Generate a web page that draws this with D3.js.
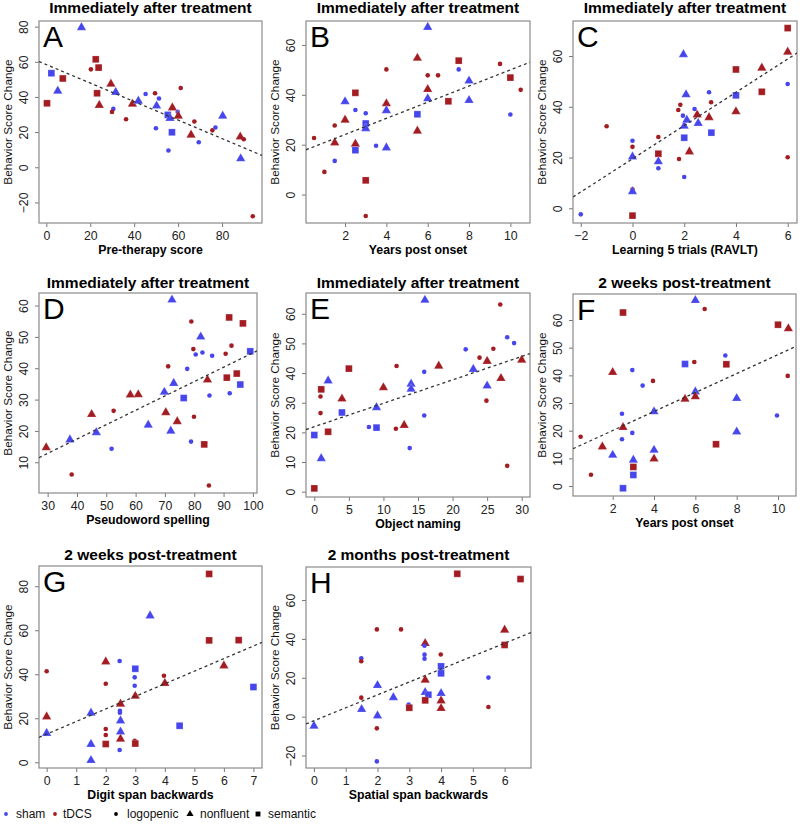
<!DOCTYPE html>
<html><head><meta charset="utf-8">
<script src="https://cdnjs.cloudflare.com/ajax/libs/d3/7.8.5/d3.min.js"></script>
<style>body{margin:0;background:#fff}svg{display:block}text{font-family:"Liberation Sans",Arial,Helvetica,sans-serif}</style>
</head><body><svg id="c" width="800" height="824"></svg>
<script>
// ---- data: [x, y, group (s=sham,t=tDCS), type (L=logopenic,N=nonfluent,S=semantic)]
const ptsA = [[16,79.5,'s','N'],[2.3,53.5,'s','S'],[7.5,50.5,'t','S'],[22.5,61.4,'t','S'],[23.8,56.7,'t','S'],[20.3,55.7,'t','L'],[5.2,43.4,'s','N'],[0.3,36.4,'t','S'],[23.1,42.1,'t','S'],[24.1,35.3,'t','N'],[29.4,47.4,'t','N'],[31.6,42.7,'s','N'],[30.5,33.2,'s','L'],[29.9,31.5,'t','L'],[36.3,27.3,'t','L'],[39.2,36,'t','N'],[41.9,37.7,'s','N'],[45.2,41.7,'s','L'],[49.5,42.1,'t','L'],[51.3,39.1,'s','L'],[50.2,34.9,'s','N'],[61.2,45.1,'t','L'],[49.9,22.2,'s','L'],[59.8,31.5,'s','L'],[55.3,29.8,'s','S'],[56.3,27.9,'s','N'],[57.4,33.9,'t','N'],[60.1,29.2,'t','N'],[55.6,9.5,'s','L'],[57.2,19.9,'s','S'],[65.9,18.4,'t','N'],[67.4,26,'t','L'],[69.4,14.2,'s','L'],[75.6,21,'t','L'],[77,22.6,'s','L'],[80.3,29.2,'s','N'],[88.3,17.3,'t','N'],[89.9,15.9,'t','L'],[88.5,4.9,'s','N'],[94,-27.9,'t','L']];
const ptsB = [[0.5,22.7,'t','L'],[1,9.1,'t','L'],[1.5,13.5,'s','L'],[1.5,27.7,'t','L'],[1.5,20.8,'t','N'],[2,37.3,'s','N'],[2,29.9,'t','N'],[2.5,40.8,'t','S'],[2.5,33.9,'s','L'],[2.5,20.3,'t','N'],[2.5,17.8,'s','S'],[3,32.6,'s','L'],[3,28.5,'s','S'],[3,26.5,'s','N'],[3,5.7,'t','S'],[3,-8.6,'t','L'],[3.5,19.6,'s','L'],[4,50.2,'t','L'],[4,36.5,'t','N'],[4,33.7,'s','N'],[4,18.8,'s','N'],[5.5,25.5,'t','N'],[5.5,32.2,'s','S'],[5.5,54.7,'t','N'],[6,67.1,'s','N'],[6,47.8,'t','L'],[6,42.2,'t','N'],[6,38.5,'s','N'],[6.5,47.8,'t','L'],[7,37.4,'t','S'],[7.5,53.7,'t','S'],[7.5,50.2,'s','L'],[8,45.6,'s','N'],[8,37.8,'s','N'],[9.5,52.4,'t','L'],[10,46.9,'t','S'],[10,32.1,'s','L'],[10.5,42,'t','L']];
const ptsC = [[-2,-2.4,'s','L'],[-1,32.3,'t','L'],[0,26.6,'s','L'],[0,24.2,'t','L'],[0,20.3,'s','N'],[0,7.5,'t','L'],[0,6.6,'s','N'],[0,-2.9,'t','S'],[1,28.1,'t','L'],[1,21.5,'t','S'],[1,18.4,'s','N'],[1,15.8,'s','L'],[1.8,19.4,'t','L'],[1.77,38.7,'t','L'],[1.85,40.8,'t','L'],[1.95,36.5,'s','L'],[1.97,60.6,'s','N'],[2.07,44.8,'s','N'],[2,32.4,'s','N'],[2.1,34.8,'s','N'],[2,27.8,'s','S'],[2,12.3,'s','L'],[2.2,22.3,'t','N'],[2.4,39.1,'s','L'],[2.5,36.8,'t','N'],[2.54,33.5,'s','N'],[2.96,35.8,'t','N'],[2.96,45.7,'s','L'],[3.04,41.8,'t','L'],[3.05,29.8,'s','S'],[4,54.7,'t','S'],[4,44.5,'s','S'],[4,38.1,'t','N'],[5,55.3,'t','N'],[5,45.9,'t','S'],[6,71,'t','S'],[6,61.6,'t','N'],[6,49,'s','L'],[6,20.1,'t','L']];
const ptsD = [[29.5,14.7,'t','N'],[38.2,6.1,'t','L'],[37.6,17.2,'s','N'],[45,25.3,'t','N'],[46.6,19.5,'s','N'],[51.8,14.3,'s','L'],[52.5,26.4,'t','L'],[58.2,31.5,'t','N'],[60.9,31.6,'t','N'],[64.3,21.9,'s','N'],[71.1,40.6,'t','L'],[69.8,32.4,'s','N'],[70.3,25.9,'t','N'],[73,35.2,'s','N'],[72.4,61.8,'s','N'],[72,20,'s','N'],[74.2,23,'t','N'],[77.6,39.8,'s','L'],[76.4,30.5,'s','S'],[79,54.9,'t','L'],[79.7,46.1,'t','L'],[80.5,44.4,'s','L'],[79.9,24.5,'t','L'],[78.9,16.6,'s','L'],[82.2,50,'s','N'],[82.8,45,'s','L'],[86.1,44,'s','L'],[84.5,36.3,'t','N'],[85.2,31.3,'s','L'],[83.4,15.7,'t','S'],[85,2.6,'t','L'],[91.9,56.2,'t','S'],[92.7,47.2,'t','L'],[90.7,44.6,'t','L'],[91.1,37,'t','S'],[92.1,32,'s','L'],[94.5,38.3,'t','S'],[96.6,54.3,'t','S'],[95.7,34.8,'s','S'],[99.1,45.4,'s','S']];
const ptsE = [[0,1.1,'t','S'],[0,19.1,'s','S'],[1,11.2,'s','N'],[0.9,32.1,'t','L'],[0.9,26.5,'t','L'],[1,34.5,'t','S'],[2,37.4,'s','N'],[2,20.2,'t','S'],[4,31.3,'t','N'],[4,26.7,'s','S'],[5,41.5,'t','S'],[7.9,21.8,'s','L'],[9,21.6,'s','S'],[9,28.4,'s','N'],[10,35.1,'t','N'],[11.9,42.4,'t','L'],[11.8,21.2,'t','L'],[13,22.4,'t','N'],[14,36.3,'s','N'],[14,34.6,'s','N'],[13.8,14.7,'s','L'],[15.9,40.4,'s','L'],[15.9,25.7,'s','L'],[16,64.6,'s','N'],[18,42.4,'t','N'],[21.9,48,'s','L'],[23,41.3,'s','N'],[23.9,45.2,'t','L'],[25.9,48.2,'t','L'],[25,44,'t','N'],[25,35.7,'s','N'],[24.9,30.7,'t','L'],[27,38.2,'t','N'],[26.9,63.1,'t','L'],[27.9,52.1,'s','L'],[27.9,8.7,'t','L'],[28.9,50.1,'s','L'],[30,44.4,'t','N']];
const ptsF = [[0.45,17.8,'t','L'],[0.95,4.1,'t','L'],[1.5,14.2,'t','N'],[2,11.2,'s','N'],[2,41.1,'t','N'],[2.5,62.7,'t','S'],[2.45,26.1,'s','L'],[2.5,21.2,'t','N'],[2.45,16.9,'s','L'],[2.5,-0.8,'s','S'],[2.95,41.9,'s','L'],[2.95,19.2,'s','L'],[3,9.4,'s','N'],[3,6.9,'t','S'],[3,4,'s','S'],[3.45,36.3,'s','L'],[3.95,38,'t','L'],[4,26.9,'s','N'],[4,13,'s','N'],[4,9.8,'t','N'],[5.5,44.1,'s','S'],[5.5,31.4,'t','N'],[5.95,44.8,'t','L'],[6,67.1,'s','N'],[6,34.1,'s','N'],[6,32.3,'t','N'],[6.45,64,'t','L'],[7.45,47.2,'s','L'],[7.5,44,'t','S'],[7,15.1,'t','S'],[8,31.7,'s','N'],[8,19.6,'s','N'],[9.95,25.5,'s','L'],[10,58.3,'t','S'],[10.5,56.9,'t','N'],[10.47,39.8,'t','L']];
const ptsG = [[0,41.4,'t','L'],[0,20.7,'t','N'],[0,13.2,'s','N'],[3.5,66.6,'s','N'],[1.5,22.4,'s','N'],[1.5,8.2,'s','N'],[1.5,0.9,'s','N'],[2,45.7,'t','N'],[2,35.7,'t','L'],[2,15.1,'t','L'],[2,12.4,'t','L'],[2,8.3,'t','S'],[2.47,46,'s','L'],[2.48,23.4,'s','L'],[2.48,22.5,'s','L'],[2.5,26.5,'t','N'],[2.5,18.9,'s','N'],[2.5,13.8,'s','N'],[2.5,10.6,'t','N'],[2.47,5.6,'s','L'],[3,42.5,'s','S'],[2.98,38.6,'s','L'],[2.98,34.8,'s','L'],[3,30.1,'t','N'],[2.98,9.8,'t','L'],[3,8.5,'t','S'],[3.97,39.3,'t','L'],[4,35.9,'t','N'],[4.5,16.6,'s','S'],[5.5,85.6,'t','S'],[5.5,55.4,'t','S'],[6.5,55.5,'t','S'],[6,43.9,'t','N'],[7,34.2,'s','S']];
const ptsH = [[0,-4.8,'s','N'],[1.49,30,'s','L'],[1.49,28.5,'t','L'],[1.49,9.8,'t','L'],[1.5,3.8,'s','N'],[1.98,44.9,'t','L'],[2,16.1,'s','N'],[2,0.5,'s','N'],[1.98,-6,'t','L'],[1.98,-23,'s','L'],[2.74,44.9,'t','L'],[2.5,9.9,'s','N'],[2.98,6.2,'s','L'],[3,4.6,'t','S'],[3.5,37.7,'t','N'],[3.48,36.5,'s','L'],[3.48,31.9,'s','L'],[3.48,29.8,'s','L'],[3.5,18.9,'t','N'],[3.5,12.5,'s','N'],[3.6,11.3,'s','S'],[3.5,8.4,'t','S'],[3.99,32,'t','L'],[4,25.9,'s','S'],[4,22.3,'s','S'],[4,12,'s','N'],[4,8.2,'t','N'],[4,4.3,'t','N'],[4.51,73.5,'t','S'],[5.49,20.1,'s','L'],[5.49,5,'t','L'],[6,44.6,'t','N'],[6,36.9,'t','S'],[6.5,70.8,'t','S']];

const panelPoints = [ptsA, ptsB, ptsC, ptsD, ptsE, ptsF, ptsG, ptsH];
const panelLetters = ["A","B","C","D","E","F","G","H"];
const panelTitles = ["Immediately after treatment","Immediately after treatment","Immediately after treatment","Immediately after treatment","Immediately after treatment","2 weeks post-treatment","2 weeks post-treatment","2 months post-treatment"];
const xLabels = ["Pre-therapy score","Years post onset","Learning 5 trials (RAVLT)","Pseudoword spelling","Object naming","Years post onset","Digit span backwards","Spatial span backwards"];
const yLabel = "Behavior Score Change";
const xDomains = [[-3.34,98.2],[0.11,10.95],[-2.30,6.36],[27.05,101.4],[-1.2,31.2],[0.08,10.87],[-0.26,7.29],[-0.25,6.83]];
const yDomains = [[-31.7,83.2],[-11.4,69.6],[-5.8,73.8],[0.2,64.0],[-1.8,67.0],[-3.6,69.4],[-2.6,89.2],[-26.4,77.0]];
const xTicks = [[0,20,40,60,80],[2,4,6,8,10],[-2,0,2,4,6],[30,40,50,60,70,80,90,100],[0,5,10,15,20,25,30],[2,4,6,8,10],[0,1,2,3,4,5,6,7],[0,1,2,3,4,5,6]];
const yTicks = [[-20,0,20,40,60,80],[0,20,40,60],[0,20,40,60],[10,20,30,40,50,60],[0,10,20,30,40,50,60],[0,10,20,30,40,50,60],[0,20,40,60,80],[-20,0,20,40,60]];
const fitIntercepts = [58.4,17.6,19.5,-0.9,21.9,13.2,12.8,-2.07];
const fitSlopes = [-0.526,3.24,6.55,0.458,0.79,3.43,5.72,6.64];
const groupNames = {s:"sham", t:"tDCS"};
const typeNames = {L:"logopenic", N:"nonfluent", S:"semantic"};

// ---- layout / style
const layout = [
  {x0:39,x1:262,y0:21,y1:223,tb:13},
  {x0:306,x1:530,y0:21,y1:223,tb:13},
  {x0:573,x1:797,y0:21,y1:223,tb:13},
  {x0:39,x1:257,y0:293,y1:493,tb:287.5},
  {x0:306,x1:530,y0:293,y1:497,tb:287.5},
  {x0:573,x1:796,y0:294,y1:496,tb:287.5},
  {x0:39,x1:262,y0:566,y1:768,tb:560},
  {x0:306,x1:531,y0:567,y1:768,tb:560}
];
const colors = {s:"#4646EC", t:"#A31C22"};
const fmt = d => d < 0 ? "\u2212" + Math.abs(d) : String(d);

const svg = d3.select("#c");

panelPoints.forEach((pts, i) => {
  const L = layout[i];
  const x = d3.scaleLinear().domain(xDomains[i]).range([L.x0, L.x1]);
  const y = d3.scaleLinear().domain(yDomains[i]).range([L.y1, L.y0]);
  const g = svg.append("g");
  const clipId = "clip" + i;
  g.append("clipPath").attr("id", clipId).append("rect")
    .attr("x", L.x0).attr("y", L.y0).attr("width", L.x1 - L.x0).attr("height", L.y1 - L.y0);

  // title
  g.append("text").attr("x", (L.x0 + L.x1) / 2).attr("y", L.tb)
    .attr("text-anchor", "middle").attr("font-weight", "bold").attr("font-size", 15.5)
    .attr("fill", "#000").text(panelTitles[i]);

  // axes
  const xa = g.append("g").attr("transform", `translate(0,${L.y1})`)
    .call(d3.axisBottom(x).tickValues(xTicks[i]).tickFormat(fmt).tickSize(4).tickPadding(4));
  xa.select(".domain").remove();
  xa.selectAll(".tick line").attr("stroke", "#777");
  xa.selectAll(".tick text").attr("font-size", 12.3).attr("fill", "#222")
    .attr("font-family", '"Liberation Sans",Arial,sans-serif');

  const ya = g.append("g").attr("transform", `translate(${L.x0},0)`)
    .call(d3.axisLeft(y).tickValues(yTicks[i]).tickFormat(fmt).tickSize(4));
  ya.select(".domain").remove();
  ya.selectAll(".tick line").attr("stroke", "#777");
  ya.selectAll(".tick text").attr("font-size", 12.3).attr("fill", "#222")
    .attr("font-family", '"Liberation Sans",Arial,sans-serif')
    .attr("text-anchor", "middle").attr("transform", "rotate(-90)")
    .attr("x", 0).attr("y", -11).attr("dy", 0);

  // box
  g.append("rect").attr("x", L.x0).attr("y", L.y0)
    .attr("width", L.x1 - L.x0).attr("height", L.y1 - L.y0)
    .attr("fill", "none").attr("stroke", "#8a8a8a").attr("stroke-width", 1.2);

  // axis labels
  g.append("text").attr("x", (L.x0 + L.x1) / 2).attr("y", L.y1 + 31)
    .attr("text-anchor", "middle").attr("font-weight", "bold").attr("font-size", 12.3)
    .text(xLabels[i]);
  g.append("text").attr("transform", `translate(${L.x0 - 27},${(L.y0 + L.y1) / 2}) rotate(-90)`)
    .attr("text-anchor", "middle").attr("font-size", 11.8).attr("fill", "#111").text(yLabel);

  // panel letter
  g.append("text").attr("x", L.x0 + 4).attr("y", L.y0 + 26)
    .attr("font-size", 30).attr("fill", "#000").text(panelLetters[i]);

  const plot = g.append("g").attr("clip-path", `url(#${clipId})`);

  // points
  const tri = d3.symbol().type(d3.symbolTriangle).size(38)();
  const sq = d3.symbol().type(d3.symbolSquare).size(46)();
  pts.forEach(p => {
    const cx = x(p[0]), cy = y(p[1]), col = colors[p[2]];
    if (p[3] === "L") {
      plot.append("circle").attr("cx", cx).attr("cy", cy).attr("r", 2.3).attr("fill", col);
    } else {
      plot.append("path").attr("d", p[3] === "N" ? tri : sq)
        .attr("transform", `translate(${cx},${cy})`).attr("fill", col)
        .attr("stroke", "#fff").attr("stroke-opacity", 0.35).attr("stroke-width", 0.6);
    }
  });

  // regression line
  const xd = xDomains[i];
  plot.append("line")
    .attr("x1", x(xd[0])).attr("y1", y(fitIntercepts[i] + fitSlopes[i] * xd[0]))
    .attr("x2", x(xd[1])).attr("y2", y(fitIntercepts[i] + fitSlopes[i] * xd[1]))
    .attr("stroke", "#333").attr("stroke-width", 1.3).attr("stroke-dasharray", "3,3");
});

// ---- legend
const lg = svg.append("g");
const ly = 814;
const legendItems = [
  {kind:"dot", color:colors.s, sx:6, tx:16, label:groupNames.s},
  {kind:"dot", color:colors.t, sx:55, tx:63, label:groupNames.t},
  {kind:"dot", color:"#000", sx:116, tx:127, label:typeNames.L},
  {kind:"tri", color:"#000", sx:190, tx:200, label:typeNames.N},
  {kind:"sq", color:"#000", sx:258, tx:268, label:typeNames.S}
];
legendItems.forEach(it => {
  if (it.kind === "dot") {
    lg.append("circle").attr("cx", it.sx).attr("cy", ly).attr("r", 1.9).attr("fill", it.color);
  } else {
    lg.append("path").attr("d", d3.symbol().type(it.kind === "tri" ? d3.symbolTriangle : d3.symbolSquare).size(it.kind === "tri" ? 22 : 24)())
      .attr("transform", `translate(${it.sx},${ly})`).attr("fill", it.color);
  }
  lg.append("text").attr("x", it.tx).attr("y", ly + 4.3).attr("font-size", 12).attr("fill", "#111").text(it.label);
});
</script></body></html>
